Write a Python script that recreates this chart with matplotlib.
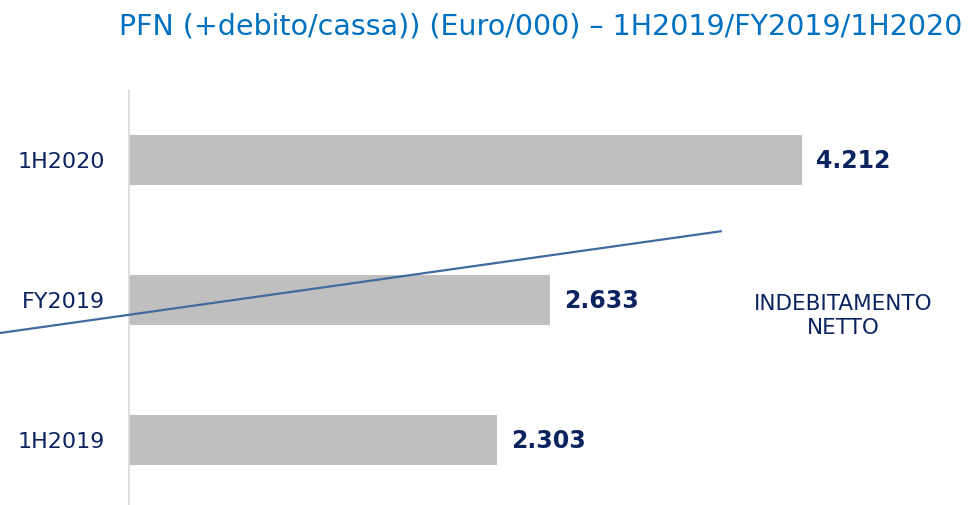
import matplotlib.pyplot as plt
from matplotlib.lines import Line2D

# data (Euro/000)
categories = ['1H2019', 'FY2019', '1H2020']
values = [2303, 2633, 4212]
value_labels = ['2.303', '2.633', '4.212']

title = 'PFN (+debito/cassa)) (Euro/000) \u2013 1H2019/FY2019/1H2020'
side_note = 'INDEBITAMENTO\nNETTO'

W, H = 974, 505
fig = plt.figure(figsize=(W / 100, H / 100), dpi=100)
plt.rcParams['font.family'] = 'DejaVu Sans'

navy = '#0b2460'
ax = fig.add_axes([129 / W, 0, (W - 129) / W, (505 - 90) / H])
ypos = list(range(len(categories)))
ax.barh(ypos, values, height=0.357, color='#bfbfbf', zorder=2)

ax.set_xlim(0, 5288)
ax.set_ylim(-0.464, 2.5)
ax.set_yticks(ypos)
ax.set_yticklabels(categories, fontsize=16, color=navy)
ax.tick_params(axis='y', length=0, pad=17)
ax.set_xticks([])
for s in ['top', 'right', 'bottom']:
    ax.spines[s].set_visible(False)
ax.spines['left'].set_color('#d9d9d9')
ax.spines['left'].set_linewidth(1.2)

for y, v, lab in zip(ypos, values, value_labels):
    ax.annotate(lab, (v, y), xytext=(10, -1), textcoords='offset points',
                ha='left', va='center', fontsize=17, fontweight='bold',
                color=navy)

# decorative slanted line crossing the chart
fig.add_artist(Line2D([0 / W, 720.7 / W], [1 - 333 / H, 1 - 231.3 / H],
                      transform=fig.transFigure, color='#3f6c9c',
                      linewidth=1.6, zorder=5))

fig.text(843 / W, 1 - 316 / H, side_note, ha='center', va='center',
         fontsize=15.5, color=navy, linespacing=1.25)

fig.text(541 / W, 1 - 26 / H, title, ha='center', va='center',
         fontsize=20.5, color='#0070c0')

plt.savefig('out.png', dpi=100)
